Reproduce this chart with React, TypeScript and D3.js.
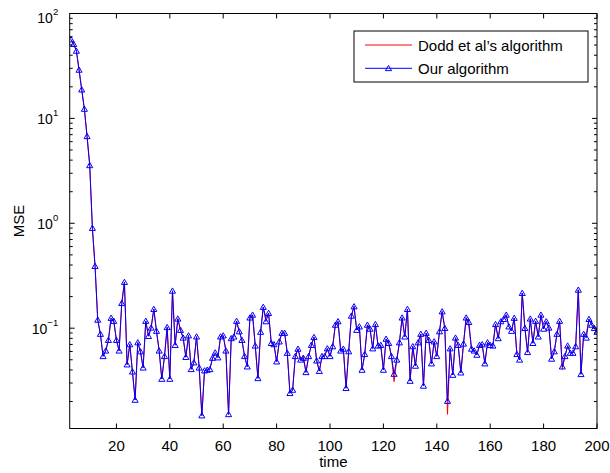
import React, { useRef, useEffect } from "react";
import * as d3 from "d3";

// time runs from firstTime, one sample per step
const firstTime = 3;

const ourMse = [
  56.5, 51, 44, 29, 18.8, 12.3, 6.75, 3.57, 0.9, 0.39,
  0.12, 0.088, 0.054, 0.061, 0.077, 0.125, 0.117, 0.077, 0.061, 0.173,
  0.275, 0.045, 0.07, 0.0385, 0.0207, 0.073, 0.06, 0.042, 0.117, 0.084,
  0.101, 0.152, 0.094, 0.061, 0.0328, 0.054, 0.102, 0.0328, 0.227, 0.069,
  0.123, 0.096, 0.081, 0.053, 0.085, 0.0406, 0.047, 0.083, 0.042, 0.0147,
  0.0394, 0.04, 0.0406, 0.052, 0.0585, 0.0525, 0.083, 0.085, 0.061, 0.0151,
  0.08, 0.083, 0.117, 0.093, 0.077, 0.054, 0.043, 0.126, 0.134, 0.068,
  0.0333, 0.092, 0.159, 0.116, 0.139, 0.072, 0.07, 0.048, 0.0745, 0.09,
  0.09, 0.058, 0.024, 0.0258, 0.054, 0.0635, 0.05, 0.052, 0.038, 0.054,
  0.069, 0.082, 0.049, 0.039, 0.054, 0.054, 0.064, 0.054, 0.067, 0.1075,
  0.116, 0.061, 0.0635, 0.0268, 0.06, 0.131, 0.161, 0.096, 0.1035, 0.04,
  0.0565, 0.1075, 0.0985, 0.064, 0.109, 0.068, 0.069, 0.04, 0.079, 0.072,
  0.054, 0.0366, 0.05, 0.073, 0.126, 0.083, 0.152, 0.0314, 0.067, 0.0437,
  0.073, 0.088, 0.0282, 0.09, 0.077, 0.046, 0.0745, 0.054, 0.093, 0.144,
  0.1, 0.0202, 0.064, 0.0358, 0.081, 0.069, 0.0377, 0.071, 0.126, 0.114,
  0.0635, 0.061, 0.0556, 0.069, 0.07, 0.046, 0.073, 0.069, 0.068, 0.109,
  0.08, 0.116, 0.122, 0.134, 0.1035, 0.094, 0.125, 0.0565, 0.05, 0.216,
  0.1, 0.059, 0.123, 0.072, 0.117, 0.083, 0.134, 0.0985, 0.116, 0.101,
  0.051, 0.06, 0.088, 0.117, 0.043, 0.054, 0.068, 0.058, 0.058, 0.067,
  0.232, 0.0364, 0.088, 0.081, 0.122, 0.1075, 0.1, 0.092,
];

// Dodd et al's curve sits under ours almost everywhere; where it differs: [time, mse]
const doddDiffs: [number, number][] = [
  [57, 0.056],
  [76, 0.125],
  [90, 0.055],
  [124, 0.031],
  [144, 0.0151],
  [152, 0.105],
  [187, 0.0406],
  [196, 0.088],
];

const xTicks = [20, 40, 60, 80, 100, 120, 140, 160, 180, 200];
const yDecades = [-2, -1, 0, 1, 2];
const legendLabels = ["Dodd et al\u2019s algorithm", "Our algorithm"];

const FONT = "'Liberation Sans', Arial, Helvetica, sans-serif";

const App = () => {
  const ref = useRef<SVGSVGElement>(null);

  useEffect(() => {
    const svg = d3.select(ref.current);
    svg.selectAll("*").remove();

    const left = 69.7,
      right = 597,
      top = 13.5,
      bottom = 428.5;

    const x = d3.scaleLinear().domain([2.5, 200]).range([left, right]);
    const y = d3.scaleLog().domain([0.01106, 100]).range([bottom, top]);

    const ours = ourMse.map((v, i) => ({ t: firstTime + i, v }));
    const diffMap = new Map(doddDiffs);
    const dodd = ours.map((d) => ({ t: d.t, v: diffMap.get(d.t) ?? d.v }));

    svg.append("rect").attr("width", 610).attr("height", 473).attr("fill", "#fff");

    const clipId = "plot-clip";
    svg
      .append("clipPath")
      .attr("id", clipId)
      .append("rect")
      .attr("x", left)
      .attr("y", top)
      .attr("width", right - left)
      .attr("height", bottom - top);

    const line = d3
      .line<{ t: number; v: number }>()
      .x((d) => x(d.t))
      .y((d) => y(d.v));

    const plot = svg.append("g").attr("clip-path", `url(#${clipId})`);

    plot
      .append("path")
      .datum(dodd)
      .attr("d", line)
      .attr("fill", "none")
      .attr("stroke", "#ff0000")
      .attr("stroke-width", 1);

    plot
      .append("path")
      .datum(ours)
      .attr("d", line)
      .attr("fill", "none")
      .attr("stroke", "#0000ff")
      .attr("stroke-width", 1);

    const tri = d3.symbol().type(d3.symbolTriangle).size(16);
    plot
      .selectAll(".mk")
      .data(ours)
      .enter()
      .append("path")
      .attr("class", "mk")
      .attr("d", tri)
      .attr("transform", (d) => `translate(${x(d.t)},${y(d.v) + 0.6})`)
      .attr("fill", "none")
      .attr("stroke", "#0000ff")
      .attr("stroke-width", 1);

    // axes box with inward ticks on all four sides
    const axes = svg.append("g").attr("stroke", "#000").attr("stroke-width", 1);
    axes
      .append("rect")
      .attr("x", left)
      .attr("y", top)
      .attr("width", right - left)
      .attr("height", bottom - top)
      .attr("fill", "none");

    xTicks.forEach((t) => {
      const px = x(t);
      axes.append("line").attr("x1", px).attr("x2", px).attr("y1", bottom).attr("y2", bottom - 5);
      axes.append("line").attr("x1", px).attr("x2", px).attr("y1", top).attr("y2", top + 5);
    });

    yDecades.forEach((e) => {
      for (let m = 1; m <= 9; m++) {
        const v = m * Math.pow(10, e);
        if (v < y.domain()[0] || v > y.domain()[1]) continue;
        const py = y(v);
        const len = m === 1 ? 5 : 3;
        axes.append("line").attr("x1", left).attr("x2", left + len).attr("y1", py).attr("y2", py);
        axes.append("line").attr("x1", right).attr("x2", right - len).attr("y1", py).attr("y2", py);
      }
    });

    const labels = svg
      .append("g")
      .attr("font-family", FONT)
      .attr("font-size", 15)
      .attr("fill", "#000");

    xTicks.forEach((t) => {
      labels
        .append("text")
        .attr("x", x(t))
        .attr("y", bottom + 22)
        .attr("text-anchor", "middle")
        .text(t);
    });

    yDecades.forEach((e) => {
      const v = Math.pow(10, e);
      if (v < y.domain()[0]) return;
      const txt = labels
        .append("text")
        .attr("x", left - 11.5)
        .attr("y", y(v) + (e === 2 ? 9.5 : 5.5))
        .attr("font-size", 14)
        .attr("text-anchor", "end");
      txt.append("tspan").text("10");
      txt
        .append("tspan")
        .attr("font-size", 9.5)
        .attr("dy", -8)
        .text(String(e).replace("-", "\u2212"));
    });

    labels
      .append("text")
      .attr("x", (left + right) / 2)
      .attr("y", 467)
      .attr("text-anchor", "middle")
      .text("time");

    labels
      .append("text")
      .attr("transform", `translate(24,${(top + bottom) / 2}) rotate(-90)`)
      .attr("text-anchor", "middle")
      .text("MSE");

    // legend
    const legend = svg.append("g");
    legend
      .append("rect")
      .attr("x", 354)
      .attr("y", 31)
      .attr("width", 234)
      .attr("height", 51)
      .attr("fill", "#fff")
      .attr("stroke", "#000");

    const colors = ["#ff0000", "#0000ff"];
    legendLabels.forEach((lab, i) => {
      const ly = 45 + i * 23.3;
      legend
        .append("line")
        .attr("x1", 365)
        .attr("x2", 412)
        .attr("y1", ly)
        .attr("y2", ly)
        .attr("stroke", colors[i]);
      if (i === 1) {
        legend
          .append("path")
          .attr("d", tri)
          .attr("transform", `translate(388.5,${ly + 0.6})`)
          .attr("fill", "none")
          .attr("stroke", "#0000ff");
      }
      legend
        .append("text")
        .attr("x", 418)
        .attr("y", ly + 5.5)
        .attr("font-family", FONT)
        .attr("font-size", 15)
        .text(lab);
    });
  }, []);

  return (
    <svg
      ref={ref}
      width={610}
      height={473}
      style={{ position: "absolute", left: 0, top: 0, display: "block" }}
    />
  );
};

export default App;
